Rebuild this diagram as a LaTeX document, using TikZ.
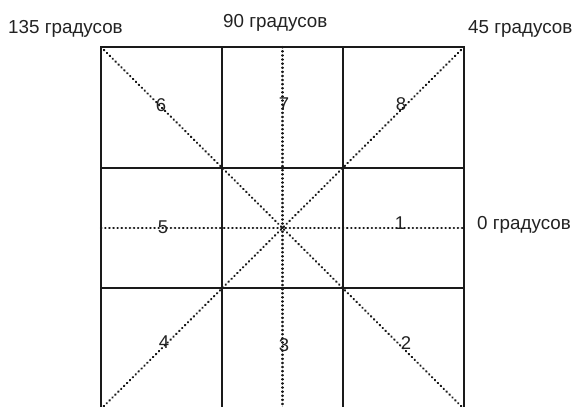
\documentclass[tikz,border=0pt]{standalone}
\usepackage{fontspec}
\setmainfont{Liberation Sans}
\definecolor{ink}{HTML}{1A1A1A}
\definecolor{txt}{HTML}{222222}
\tikzset{
  gridline/.style={line width=1.9pt, draw=ink},
  dotline/.style={line width=2.2pt, draw=ink, line cap=round, dash pattern=on 0.5pt off 3.6pt},
  deg/.style={font=\fontsize{18.8}{20}\selectfont, text=txt, inner sep=0pt, anchor=base west},
  num/.style={font=\fontsize{18.5}{20}\selectfont, text=txt, inner sep=0pt}
}
\begin{document}
\begin{tikzpicture}[x=1pt,y=-1pt]
\useasboundingbox (0,0) rectangle (576,407);
\clip (0,0) rectangle (576,407);
% grid coordinates
\coordinate (a0) at (101,47);   \coordinate (a1) at (222,47);   \coordinate (a2) at (343,47);   \coordinate (a3) at (464,47);
\coordinate (b0) at (101,168);  \coordinate (b3) at (464,168);
\coordinate (c0) at (101,288);  \coordinate (c3) at (464,288);
\coordinate (d0) at (101,409);  \coordinate (d1) at (222,409);  \coordinate (d2) at (343,409);  \coordinate (d3) at (464,409);
\coordinate (mt) at (282.5,47); \coordinate (mb) at (282.5,409);
\coordinate (ml) at (101,228);  \coordinate (mr) at (464,228);
% dotted guide lines
\draw[dotline] (mt) -- (mb);
\draw[dotline] (ml) -- (mr);
\draw[dotline] (a0) -- (d3);
\draw[dotline] (a3) -- (d0);
% solid grid
\draw[gridline] (a0) rectangle (d3);
\draw[gridline] (a1) -- (d1);
\draw[gridline] (a2) -- (d2);
\draw[gridline] (b0) -- (b3);
\draw[gridline] (c0) -- (c3);
% numbers
\node[num] (n6) at (161,105) {6};
\node[num] (n7) at (284,104) {7};
\node[num] (n8) at (401,104) {8};
\node[num] (n5) at (163,227) {5};
\node[num] (n1) at (400,223) {1};
\node[num] (n4) at (164,342) {4};
\node[num] (n3) at (284,345) {3};
\node[num] (n2) at (406,343) {2};
% degree labels
\node[deg] (d135) at (8,33) {135 градусов};
\node[deg] (d90) at (223,27) {90 градусов};
\node[deg] (d45) at (468,33) {45 градусов};
\node[deg] (d0) at (477,229) {0 градусов};
\end{tikzpicture}
\end{document}
